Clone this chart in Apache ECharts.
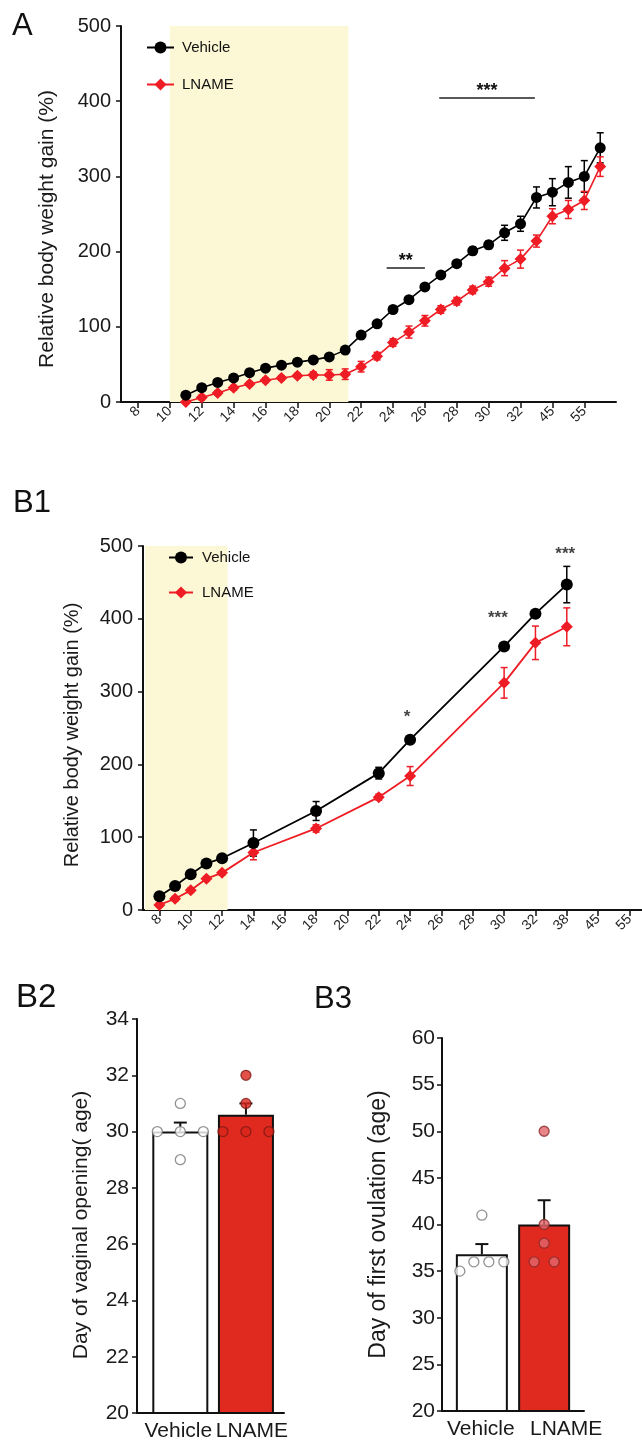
<!DOCTYPE html>
<html>
<head>
<meta charset="utf-8">
<script src="https://cdn.jsdelivr.net/npm/echarts@6/dist/echarts.min.js"></script>
<style>
html,body{margin:0;padding:0;background:#fff;}
#c{width:642px;height:1443px;}
</style>
</head>
<body>
<div id="c"></div>
<script>
// ---------- Panel A : relative body weight gain ----------
const aDays        = [11,12,13,14,15,16,17,18,19,20,21,22,23,24,25,26,27,28,29,30,31,32,33,34,35,36,37];
const aVehicle     = [9,19,26,32,39,45,49,53,56,60,69,89,104,123,136,153,169,184,201,209,225,237,272,279,292,300,338];
const aVehicleSem  = [3,3,3,3,3,3,3,3,3,3,3,3,3,3,3,3,4,4,5,5,10,10,14,18,21,21,20];
const aLname       = [0,6,12,19,24,29,32,35,36,36,37,47,61,79,93,108,123,134,149,160,178,190,214,247,256,268,313];
const aLnameSem    = [2,3,3,3,3,3,3,3,4,7,7,7,5,5,8,7,5,5,5,6,10,12,8,10,12,12,13];
const aTickPos     = [8,10,12,14,16,18,20,22,24,26,28,30,32,34,36];
const aTickLabels  = ['8','10','12','14','16','18','20','22','24','26','28','30','32','45','55'];
const aTreatment   = [10, 21.2, 504];
const aSig         = [[23.6, 26, 178, '**'], [26.9, 32.9, 404, '***']];

// ---------- Panel B1 ----------
const b1Days       = [8,9,10,11,12,14,18,22,24,30,32,34];
const b1Vehicle    = [19,33,49,64,71,92,136,188,234,362,407,447];
const b1VehicleSem = [4,4,4,4,4,18,13,8,5,5,4,25];
const b1Lname      = [7,15.5,27,43,51,79,112,155,184,312,367,389];
const b1LnameSem   = [3,3,3,3,3,10,5,4,13,21,23,26];
const b1TickPos    = [8,10,12,14,16,18,20,22,24,26,28,30,32,34,36,38];
const b1TickLabels = ['8','10','12','14','16','18','20','22','24','26','28','30','32','38','45','55'];
const b1Treatment  = [7.08, 12.35, 500];
const b1Sig        = [[23.8, 265, '*'], [29.6, 400, '***'], [33.9, 488, '***']];

// ---------- Panels B2 / B3 ----------
const groups        = ['Vehicle', 'LNAME'];
const b2Mean        = [30.0, 30.6];
const b2Sem         = [0.32, 0.40];
const b2VehicleDots = [30, 30, 31, 29, 30];
const b2LnameDots   = [30, 30, 30, 31, 32];
const b3Mean        = [36.8, 40.0];
const b3Sem         = [1.1, 2.6];
const b3VehicleDots = [35, 36, 36, 36, 41];
const b3LnameDots   = [36, 36, 38, 40, 50];

// horizontal jitter of the individual dots (pixels, presentation only)
const b2VehicleJitter = [-23, 0, 0, 0, 23];
const b2LnameJitter   = [-23, 0, 23, 0, 0];
const b3VehicleJitter = [-22, -8, 7, 22, 0];
const b3LnameJitter   = [-10, 10, 0, 0, 0];

// ---------- styles ----------
const FONT = "'Liberation Sans', Arial, Helvetica, sans-serif";
const INK = '#111';
const RED = '#EE1C24';
const BAR_RED = '#E0291F';

function errRender(capW, lw, color, upOnly) {
  return function (params, api) {
    const x = api.value(0), m = api.value(1), e = api.value(2);
    const pt = api.coord([x, m + e]);
    const pb = api.coord([x, upOnly ? m : m - e]);
    const st = {stroke: color, lineWidth: lw};
    const ch = [
      {type: 'line', shape: {x1: pt[0], y1: pt[1], x2: pb[0], y2: pb[1]}, style: st},
      {type: 'line', shape: {x1: pt[0] - capW / 2, y1: pt[1], x2: pt[0] + capW / 2, y2: pt[1]}, style: st}
    ];
    if (!upOnly) ch.push({type: 'line', shape: {x1: pb[0] - capW / 2, y1: pb[1], x2: pb[0] + capW / 2, y2: pb[1]}, style: st});
    return {type: 'group', children: ch};
  };
}

function lineAxisX(grid, min, max, pos, labels) {
  return {
    type: 'value', gridIndex: grid, min: min, max: max,
    axisLine: {show: true, onZero: false, lineStyle: {color: INK, width: 2}},
    axisTick: {show: true, customValues: pos, length: 6, lineStyle: {color: INK, width: 1.5}},
    axisLabel: {customValues: pos, rotate: 45, fontSize: 14, margin: 7, color: '#222', fontFamily: FONT,
      showMinLabel: true, showMaxLabel: true,
      formatter: function (v) { const i = pos.indexOf(v); return i < 0 ? '' : labels[i]; }},
    splitLine: {show: false}
  };
}
function valAxisY(grid, min, max, interval, name, nameSize, nameGap, labelSize, labelMargin, pad) {
  return {
    type: 'value', gridIndex: grid, min: min, max: max, interval: interval,
    axisLine: {show: true, onZero: false, lineStyle: {color: INK, width: 2}},
    axisTick: {show: true, length: 5, lineStyle: {color: INK, width: 1.5}},
    axisLabel: {fontSize: labelSize, margin: labelMargin, color: '#1a1a1a', fontFamily: FONT, showMinLabel: true, showMaxLabel: true},
    splitLine: {show: false},
    name: name, nameLocation: 'middle', nameRotate: 90, nameGap: nameGap,
    nameTextStyle: {fontSize: nameSize, color: '#1a1a1a', fontFamily: FONT, padding: pad}
  };
}
// shift (px) of each group label relative to its bar centre, presentation only
function groupAxisX(grid, min, max, shifts) {
  const rich = {};
  shifts.forEach((s, i) => {
    rich['g' + i] = {fontSize: 21, color: '#1a1a1a', fontFamily: FONT,
      padding: s >= 0 ? [0, 0, 0, 2 * s] : [0, -2 * s, 0, 0]};
  });
  return {
    type: 'value', gridIndex: grid, min: min, max: max,
    axisLine: {show: true, onZero: false, lineStyle: {color: INK, width: 2}},
    axisTick: {show: false},
    axisLabel: {customValues: [0, 1], fontSize: 21, margin: 8, color: '#1a1a1a', fontFamily: FONT,
      showMinLabel: true, showMaxLabel: true, hideOverlap: false, rich: rich,
      formatter: function (v) { const i = Math.round(v); return groups[i] !== undefined ? '{g' + i + '|' + groups[i] + '}' : ''; }},
    splitLine: {show: false}
  };
}

const series = [];

// ---- A ----
series.push({
  type: 'line', name: '_shadeA', xAxisIndex: 0, yAxisIndex: 0, data: [], silent: true,
  markArea: {silent: true, itemStyle: {color: '#FCF8D5'},
    data: [[{xAxis: aTreatment[0], yAxis: 0}, {xAxis: aTreatment[1], yAxis: aTreatment[2]}]]},
  markLine: {silent: true, symbol: 'none', animation: false,
    lineStyle: {color: '#222', width: 1.5, type: 'solid'},
    label: {show: true, position: 'insideMiddleTop', formatter: '{b}', color: '#111', fontSize: 18, fontWeight: 'bold', distance: -2},
    data: aSig.map(s => [{coord: [s[0], s[2]], name: s[3]}, {coord: [s[1], s[2]], name: s[3]}])}
});
series.push({type: 'custom', name: '_errAV', xAxisIndex: 0, yAxisIndex: 0, z: 3, silent: true,
  renderItem: errRender(7, 1.5, '#000', false), encode: {x: 0, y: 1},
  data: aDays.map((d, i) => [d, aVehicle[i], aVehicleSem[i]])});
series.push({type: 'custom', name: '_errAL', xAxisIndex: 0, yAxisIndex: 0, z: 3, silent: true,
  renderItem: errRender(7, 1.5, RED, false), encode: {x: 0, y: 1},
  data: aDays.map((d, i) => [d, aLname[i], aLnameSem[i]])});
series.push({type: 'line', name: 'Vehicle', xAxisIndex: 0, yAxisIndex: 0, z: 5,
  symbol: 'circle', symbolSize: 11, showAllSymbol: true,
  lineStyle: {color: '#000', width: 1.6}, itemStyle: {color: '#000'},
  data: aDays.map((d, i) => [d, aVehicle[i]])});
series.push({type: 'line', name: 'LNAME', xAxisIndex: 0, yAxisIndex: 0, z: 4,
  symbol: 'diamond', symbolSize: 12, showAllSymbol: true,
  lineStyle: {color: RED, width: 1.6}, itemStyle: {color: RED},
  data: aDays.map((d, i) => [d, aLname[i]])});

// ---- B1 ----
series.push({
  type: 'line', name: '_shadeB1', xAxisIndex: 1, yAxisIndex: 1, data: [], silent: true,
  markArea: {silent: true, itemStyle: {color: '#FCF8D5'},
    data: [[{xAxis: b1Treatment[0], yAxis: 0}, {xAxis: b1Treatment[1], yAxis: b1Treatment[2]}]]}
});
series.push({type: 'custom', name: '_errBV', xAxisIndex: 1, yAxisIndex: 1, z: 3, silent: true,
  renderItem: errRender(7, 1.5, '#000', false), encode: {x: 0, y: 1},
  data: b1Days.map((d, i) => [d, b1Vehicle[i], b1VehicleSem[i]])});
series.push({type: 'custom', name: '_errBL', xAxisIndex: 1, yAxisIndex: 1, z: 3, silent: true,
  renderItem: errRender(7, 1.5, RED, false), encode: {x: 0, y: 1},
  data: b1Days.map((d, i) => [d, b1Lname[i], b1LnameSem[i]])});
series.push({type: 'line', name: 'Vehicle', xAxisIndex: 1, yAxisIndex: 1, z: 5,
  symbol: 'circle', symbolSize: 12, showAllSymbol: true,
  lineStyle: {color: '#000', width: 1.8}, itemStyle: {color: '#000'},
  data: b1Days.map((d, i) => [d, b1Vehicle[i]])});
series.push({type: 'line', name: 'LNAME', xAxisIndex: 1, yAxisIndex: 1, z: 4,
  symbol: 'diamond', symbolSize: 12, showAllSymbol: true,
  lineStyle: {color: RED, width: 1.8}, itemStyle: {color: RED},
  data: b1Days.map((d, i) => [d, b1Lname[i]])});
series.push({type: 'scatter', name: '_sigB1', xAxisIndex: 1, yAxisIndex: 1, z: 6, silent: true,
  symbolSize: 1, itemStyle: {color: 'rgba(0,0,0,0)'},
  label: {show: true, position: 'inside', formatter: '{b}', color: '#111', fontSize: 17, fontWeight: 'bold', fontFamily: FONT},
  data: b1Sig.map(s => ({name: s[2], value: [s[0], s[1]]}))});

// ---- B2 / B3 ----
function barPanel(gx, mean, sem, vDots, lDots, vJit, lJit, barW, lnameDotColor, lnameDotBorder) {
  series.push({type: 'bar', name: '_bar' + gx, xAxisIndex: gx, yAxisIndex: gx, z: 2, barWidth: barW, silent: true,
    itemStyle: {borderColor: INK, borderWidth: 2},
    data: groups.map((g, i) => ({value: [i, mean[i]], itemStyle: {color: i === 0 ? '#fff' : BAR_RED}}))});
  series.push({type: 'custom', name: '_err' + gx, xAxisIndex: gx, yAxisIndex: gx, z: 3, silent: true,
    renderItem: errRender(13, 2, INK, true), encode: {x: 0, y: 1},
    data: groups.map((g, i) => [i, mean[i], sem[i]])});
  series.push({type: 'scatter', name: '_dv' + gx, xAxisIndex: gx, yAxisIndex: gx, z: 4, silent: true,
    symbolSize: 10, itemStyle: {color: '#fff', borderColor: '#777', borderWidth: 1.3},
    data: vDots.map((v, k) => ({value: [0, v], symbolOffset: [vJit[k], 0]}))});
  series.push({type: 'scatter', name: '_dl' + gx, xAxisIndex: gx, yAxisIndex: gx, z: 4, silent: true,
    symbolSize: 10, itemStyle: {color: lnameDotColor, borderColor: lnameDotBorder, borderWidth: 1.3},
    data: lDots.map((v, k) => ({value: [1, v], symbolOffset: [lJit[k], 0]}))});
}
barPanel(2, b2Mean, b2Sem, b2VehicleDots, b2LnameDots, b2VehicleJitter, b2LnameJitter, 56, '#D9261C', '#7a1a14');
barPanel(3, b3Mean, b3Sem, b3VehicleDots, b3LnameDots, b3VehicleJitter, b3LnameJitter, 52, '#E2666A', '#8a2b2b');

const titleStyle = {fontSize: 31, fontWeight: 'normal', color: '#111', fontFamily: FONT};

const option = {
  animation: false,
  backgroundColor: '#fff',
  textStyle: {fontFamily: FONT},
  title: [
    {text: 'A', left: 12, top: 11, padding: 0, textStyle: titleStyle},
    {text: 'B1', left: 13, top: 488, padding: 0, textStyle: titleStyle},
    {text: 'B2', left: 16, top: 981, padding: 0, textStyle: {fontSize: 33, fontWeight: 'normal', color: '#111', fontFamily: FONT}},
    {text: 'B3', left: 314, top: 984, padding: 0, textStyle: titleStyle}
  ],
  legend: [
    {left: 141, top: 35, orient: 'vertical', itemWidth: 27, itemHeight: 15, itemGap: 22, selectedMode: false,
      data: ['Vehicle', 'LNAME'], textStyle: {fontSize: 15, color: '#111', padding: [0, 0, 0, 3]}},
    {left: 163, top: 545, orient: 'vertical', itemWidth: 24, itemHeight: 15, itemGap: 20, selectedMode: false,
      data: ['Vehicle', 'LNAME'], textStyle: {fontSize: 15, color: '#111', padding: [0, 0, 0, 4]}}
  ],
  grid: [
    {left: 121, top: 26, width: 495, height: 376, outerBoundsMode: 'none'},
    {left: 143, top: 546, width: 499, height: 364, outerBoundsMode: 'none'},
    {left: 137, top: 1019, width: 147, height: 394, outerBoundsMode: 'none'},
    {left: 442, top: 1038, width: 142, height: 373, outerBoundsMode: 'none'}
  ],
  xAxis: [
    lineAxisX(0, 6.933, 37.99, aTickPos, aTickLabels),
    lineAxisX(1, 6.953, 38.8, b1TickPos, b1TickLabels),
    groupAxisX(2, -0.66, 1.58, [-2, 6]),
    groupAxisX(3, -0.64, 1.64, [-1, 22])
  ],
  yAxis: [
    valAxisY(0, 0, 500, 100, 'Relative body weight gain (%)', 21, 63, 20, 10, [0, 30, 0, 0]),
    valAxisY(1, 0, 500, 100, 'Relative body weight gain (%)', 20, 61, 20, 10, [0, 14, 0, 0]),
    valAxisY(2, 20, 34, 2, 'Day of vaginal opening( age)', 21, 45, 21, 8, [0, 18, 0, 0]),
    valAxisY(3, 20, 60, 5, 'Day of first ovulation (age)', 23, 52, 21, 7, [0, 0, 0, 0])
  ],
  series: series
};

const chart = echarts.init(document.getElementById('c'), null, {renderer: 'canvas'});
chart.setOption(option);
</script>
</body>
</html>
